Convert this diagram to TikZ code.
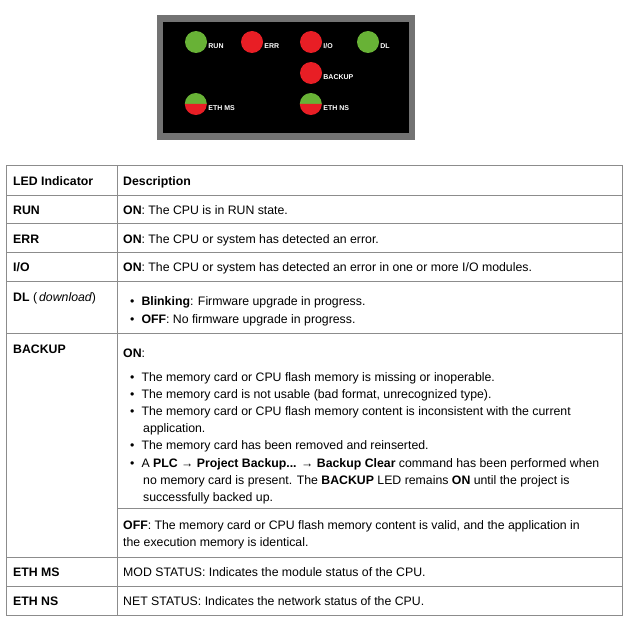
\documentclass[tikz,border=0pt]{standalone}
\usepackage{fontspec}
\setmainfont{Liberation Sans}
\tikzset{
  led/.style={circle, minimum size=22pt, inner sep=0pt},
  ledlabel/.style={anchor=west, text=white, font=\fontsize{7}{8}\selectfont\bfseries, inner sep=0pt},
  cell/.style={anchor=base west, inner sep=0pt, font=\fontsize{12.3}{14}\selectfont},
  bullet/.style={anchor=base west, inner sep=0pt, font=\fontsize{12.3}{14}\selectfont},
  rule/.style={draw=black!45, line width=1pt}
}
\definecolor{ledgreen}{RGB}{104,178,54}
\definecolor{ledred}{RGB}{232,30,37}
\begin{document}
\begin{tikzpicture}[x=1pt, y=-1pt]
  \useasboundingbox (0,0) rectangle (628,623);
  % LED panel
  \fill[black!55] (157,15) rectangle (415,140);
  \fill[black] (163,22) rectangle (409,133);
  \node (run) [led, fill=ledgreen] at (196,42) {};
  \node (err) [led, fill=ledred] at (252,42) {};
  \node (io) [led, fill=ledred] at (311,42) {};
  \node (dl) [led, fill=ledgreen] at (368,42) {};
  \node (backup) [led, fill=ledred] at (311,73) {};
  \node (ethms) [led] at (196,104) {};
  \node (ethns) [led] at (311,104) {};
  \foreach \n in {ethms,ethns} {
    \fill[ledgreen] (\n.west) arc[start angle=180, end angle=0, radius=11pt] -- cycle;
    \fill[ledred] (\n.west) arc[start angle=180, end angle=360, radius=11pt] -- cycle;
  }
  \node (runl) [ledlabel] at ([xshift=1pt,yshift=-4pt]run.east) {RUN};
  \node (errl) [ledlabel] at ([xshift=1pt,yshift=-4pt]err.east) {ERR};
  \node (iol) [ledlabel] at ([xshift=1pt,yshift=-4pt]io.east) {I/O};
  \node (dll) [ledlabel] at ([xshift=1pt,yshift=-4pt]dl.east) {DL};
  \node (backupl) [ledlabel] at ([xshift=1pt,yshift=-4pt]backup.east) {BACKUP};
  \node (ethmsl) [ledlabel] at ([xshift=1pt,yshift=-4pt]ethms.east) {ETH MS};
  \node (ethnsl) [ledlabel] at ([xshift=1pt,yshift=-4pt]ethns.east) {ETH NS};
  % table
  \draw[rule] (6,165) rectangle (622,615);
  \draw[rule] (117,165) -- (117,615);
  \foreach \y in {195,223,252,281,333,557,586}
    \draw[rule] (6,\y) -- (622,\y);
  \draw[rule] (117,508) -- (622,508);
  % left column
  \node (hled) [cell] at (13,185) {\bfseries LED Indicator};
  \node (krun) [cell] at (13,214) {\bfseries RUN};
  \node (kerr) [cell] at (13,243) {\bfseries ERR};
  \node (kio) [cell] at (13,271) {\bfseries I/O};
  \node (kdl) [cell] at (13,301) {\bfseries DL \mdseries(\,\itshape download\upshape)};
  \node (kbackup) [cell] at (13,353) {\bfseries BACKUP};
  \node (kethms) [cell] at (13,576) {\bfseries ETH MS};
  \node (kethns) [cell] at (13,605) {\bfseries ETH NS};
  % right column
  \node (hdesc) [cell] at (123,185) {\bfseries Description};
  \node (drun) [cell] at (123,214) {\textbf{ON}: The CPU is in RUN state.};
  \node (derr) [cell] at (123,243) {\textbf{ON}: The CPU or system has detected an error.};
  \node (dio) [cell] at (123,271) {\textbf{ON}: The CPU or system has detected an error in one or more I/O modules.};
  \node (ddla) [bullet] at (130,305) {\textbullet\hspace{7pt}\textbf{Blinking}: Firmware upgrade in progress.};
  \node (ddlb) [bullet] at (130,323) {\textbullet\hspace{7pt}\textbf{OFF}: No firmware upgrade in progress.};
  \node (don) [cell] at (123,357) {\textbf{ON}:};
  \node (db1) [bullet] at (130,381) {\textbullet\hspace{7pt}The memory card or CPU flash memory is missing or inoperable.};
  \node (db2) [bullet] at (130,398) {\textbullet\hspace{7pt}The memory card is not usable (bad format, unrecognized type).};
  \node (db3) [bullet] at (130,415) {\textbullet\hspace{7pt}The memory card or CPU flash memory content is inconsistent with the current};
  \node (db3b) [bullet] at (143,432) {application.};
  \node (db4) [bullet] at (130,449) {\textbullet\hspace{7pt}The memory card has been removed and reinserted.};
  \node (db5) [bullet] at (130,467) {\textbullet\hspace{7pt}A \textbf{PLC → Project Backup... → Backup Clear} command has been performed when};
  \node (db5b) [bullet] at (143,484) {no memory card is present. The \textbf{BACKUP} LED remains \textbf{ON} until the project is};
  \node (db5c) [bullet] at (143,501) {successfully backed up.};
  \node (doff) [cell] at (123,529) {\textbf{OFF}: The memory card or CPU flash memory content is valid, and the application in};
  \node (doffb) [cell] at (123,546) {the execution memory is identical.};
  \node (dethms) [cell] at (123,576) {MOD STATUS: Indicates the module status of the CPU.};
  \node (dethns) [cell] at (123,605) {NET STATUS: Indicates the network status of the CPU.};
\end{tikzpicture}
\end{document}
